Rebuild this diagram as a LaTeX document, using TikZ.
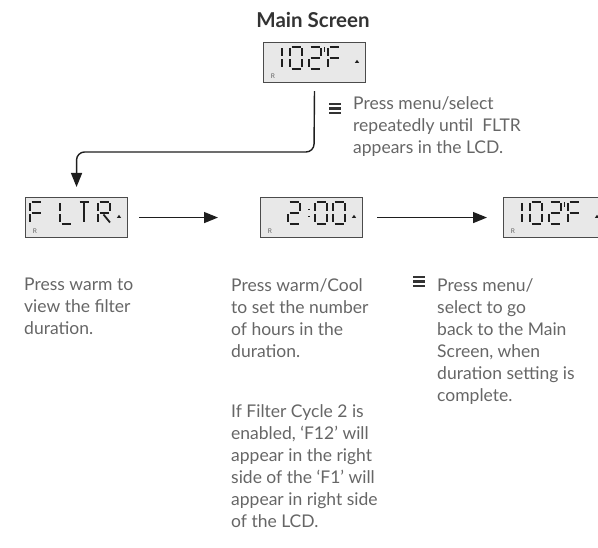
\documentclass[tikz,border=0pt]{standalone}
\usepackage{fontspec}
\setmainfont{Lato}
\usetikzlibrary{arrows.meta}

\definecolor{notegray}{HTML}{666666}
\definecolor{titlegray}{HTML}{333333}
\definecolor{lcdfill}{HTML}{E8E8E8}
\definecolor{lcdink}{HTML}{1E1E1E}

% seven segment parts of one lcd cell (12 wide, 22 high, y downwards)
\def\segA{(1.5,0) -- (10.5,0)}
\def\segB{(12,1.5) -- (12,9.5)}
\def\segC{(12,12.5) -- (12,20.5)}
\def\segD{(1.5,22) -- (10.5,22)}
\def\segE{(0,12.5) -- (0,20.5)}
\def\segF{(0,1.5) -- (0,9.5)}
\def\segG{(1.5,11) -- (10.5,11)}
\def\segT{(6,1.5) -- (6,20.5)}
\def\segR{(5.5,12.5) -- (12,20.5)}
\def\segK{(0,0.5) -- (0,5)}
\def\segP{(0,7) -- (0,8)}
\def\segQ{(0,14.5) -- (0,15.5)}

\tikzset{
  title/.style={font=\bfseries\fontsize{20.5}{24}\selectfont, text=titlegray},
  lcd/.style={draw=lcdink!80, line width=1.1pt, fill=lcdfill, anchor=north west,
    minimum width=102pt, minimum height=40pt, inner sep=0pt},
  lcd segment/.style={draw=lcdink, line width=1.8pt},
  lcd mark/.style={font=\fontsize{6.5}{6.5}\selectfont, text=lcdink!70, inner sep=0pt},
  flow/.style={draw=lcdink, line width=1.4pt, rounded corners=8pt,
    -{Triangle[length=14pt,width=11pt]}},
  menu bar/.style={draw=titlegray, line width=2.2pt},
  note/.style={font=\fontsize{17.5}{22}\selectfont, text=notegray, align=left,
    anchor=north west, inner sep=0pt},
}

% one lcd character: box, offset, segments
\newcommand\lcdchar[3]{%
  \begin{scope}[shift={(#1.north west)}, shift={(#2,5)}]
    \foreach \s in {#3} {\draw[lcd segment] \csname seg\s\endcsname;}
  \end{scope}}

\begin{document}
\begin{tikzpicture}[x=1pt, y=-1pt]
  \path[use as bounding box] (0,0) rectangle (598,548);
  \clip (0,0) rectangle (598,548);

  % title
  \node[title] (title) at (313,20) {Main Screen};

  % lcd screens
  \foreach \name/\x/\y in {main/263/42, fltr/25/197, time/260/197, back/503/197}
  {
    \node[lcd] (lcd_\name) at (\x,\y) {};
    \node[lcd mark] (r_\name) at ([shift={(10,34)}]lcd_\name.north west) {R};
    \fill[lcdink] ([shift={(94,21)}]lcd_\name.north west) -- ++(2.2,0) -- ++(-2.2,-3.2) -- ++(-2.2,3.2) -- cycle;
  }

  % 102'F on main and back screens
  \foreach \name in {main, back}
  {
    \lcdchar{lcd_\name}{7}{B,C}
    \lcdchar{lcd_\name}{27}{A,B,C,D,E,F}
    \lcdchar{lcd_\name}{46}{A,B,G,E,D}
    \lcdchar{lcd_\name}{61.5}{K}
    \lcdchar{lcd_\name}{65}{A,F,G,E}
  }
  % FLTR
  \lcdchar{lcd_fltr}{5}{A,F,G,E}
  \lcdchar{lcd_fltr}{35}{F,E,D}
  \lcdchar{lcd_fltr}{53}{A,T}
  \lcdchar{lcd_fltr}{73}{A,B,F,G,E,R}
  % 2:00
  \lcdchar{lcd_time}{28}{A,B,G,E,D}
  \lcdchar{lcd_time}{49}{P,Q}
  \lcdchar{lcd_time}{55}{A,B,C,D,E,F}
  \lcdchar{lcd_time}{73}{A,B,C,D,E,F}

  % connectors
  \coordinate (turn) at (314,152);
  \draw[flow, shorten <=8pt, shorten >=10pt] (lcd_main.south) -- (turn) -| (lcd_fltr.north);
  \draw[flow, shorten <=11pt, shorten >=42pt] (lcd_fltr.east) -- (lcd_time.west);
  \draw[flow, shorten <=14pt, shorten >=16pt] (lcd_time.east) -- (lcd_back.west);

  % menu icons
  \foreach \x/\y in {329/104, 413/277}
    \foreach \k in {0,1,2}
      \draw[menu bar] (\x,\y+\k*4.5) -- ++(12,0);

  % notes
  \node[note] (hint_menu) at (353,96) {Press menu/select\\repeatedly until~ FLTR\\appears in the LCD.};
  \node[note] (step_1) at (24,278) {Press warm to\\view the filter\\duration.};
  \node[note] (step_2) at (231,278) {Press warm/Cool\\to set the number\\of hours in the\\duration.\\[38pt]If Filter Cycle 2 is\\enabled, ‘F12’ will\\appear in the right\\side of the ‘F1’ will\\appear in right side\\of the LCD.};
  \node[note] (step_3) at (437,278) {Press menu/\\select to go\\back to the Main\\Screen, when\\duration setting is\\complete.};
\end{tikzpicture}
\end{document}
